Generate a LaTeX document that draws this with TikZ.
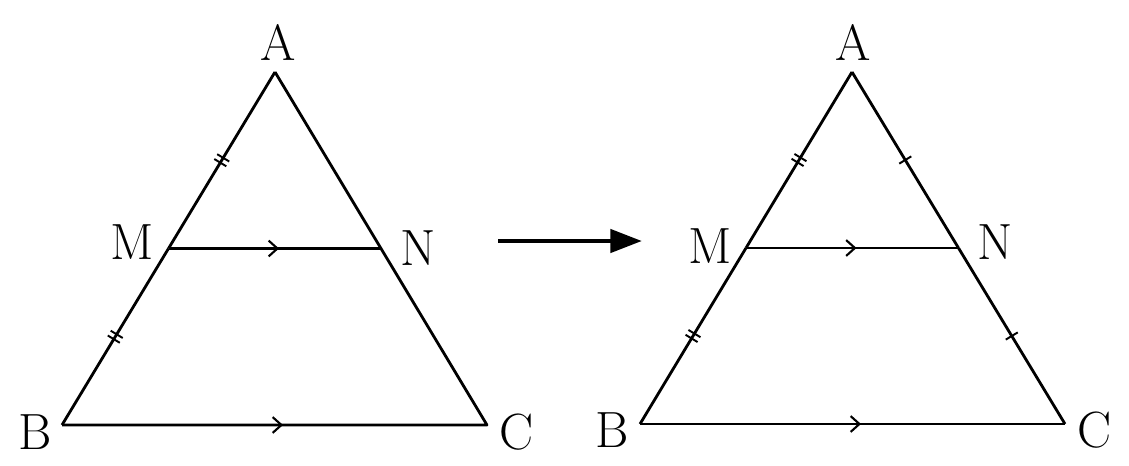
\documentclass[tikz,border=0pt]{standalone}
\usetikzlibrary{decorations.markings,arrows.meta}
\begin{document}
\begin{tikzpicture}[x=0.02cm,y=-0.02cm,line width=1.6pt,
  lbl/.style={font=\fontsize{29}{31}\selectfont,inner sep=0pt},
  dtick/.style={postaction={decorate},decoration={markings,mark=at position 0.5 with {\draw[line width=1.1pt] (-1.6pt,-4pt)--(-1.6pt,4pt) (1.6pt,-4pt)--(1.6pt,4pt);}}},
  stick/.style={postaction={decorate},decoration={markings,mark=at position 0.5 with {\draw[line width=1.1pt] (0,-4pt)--(0,4pt);}}},
  midarrow/.style={postaction={decorate},decoration={markings,mark=at position 0.52 with {\arrow{Straight Barb[length=5pt,width=9pt,line width=1.2pt]}}}}]
\useasboundingbox (0,0) rectangle (1129,466);
% left
\coordinate (A1) at (275,72); \coordinate (B1) at (62,425); \coordinate (C1) at (487,425);
\coordinate (M1) at (168.5,248.5); \coordinate (N1) at (381,248.5);
\draw[line join=round] (B1)--(C1)--(A1);
\draw[dtick] (A1)--(M1);
\draw[dtick] (M1)--(B1);
\draw[midarrow] (M1)--(N1);
\draw[midarrow] (B1)--(C1);
\node[lbl] (la1) at (278,42) {A};
\node[lbl] (lb1) at (35,432) {B};
\node[lbl] (lc1) at (517,432) {C};
\node[lbl] (lm1) at (132,242) {M};
\node[lbl] (ln1) at (418,248) {N};
% arrow
\coordinate (s) at (498,241); \coordinate (e) at (642,241);
\draw[line width=2.8pt,-{Triangle[length=18pt,width=13pt]}] (s)--(e);
% right
\coordinate (A2) at (852,72); \coordinate (B2) at (640,424); \coordinate (C2) at (1065,424);
\coordinate (M2) at (746,248); \coordinate (N2) at (958.5,248);
\draw[midarrow] (B2)--(C2);
\draw[dtick] (A2)--(M2);
\draw[dtick] (M2)--(B2);
\draw[stick] (A2)--(N2);
\draw[stick] (N2)--(C2);
\draw[midarrow] (M2)--(N2);
\node[lbl] (la2) at (853,42) {A};
\node[lbl] (lb2) at (612,430) {B};
\node[lbl] (lc2) at (1095,430) {C};
\node[lbl] (lm2) at (710,246) {M};
\node[lbl] (ln2) at (995,242) {N};
\end{tikzpicture}
\end{document}
